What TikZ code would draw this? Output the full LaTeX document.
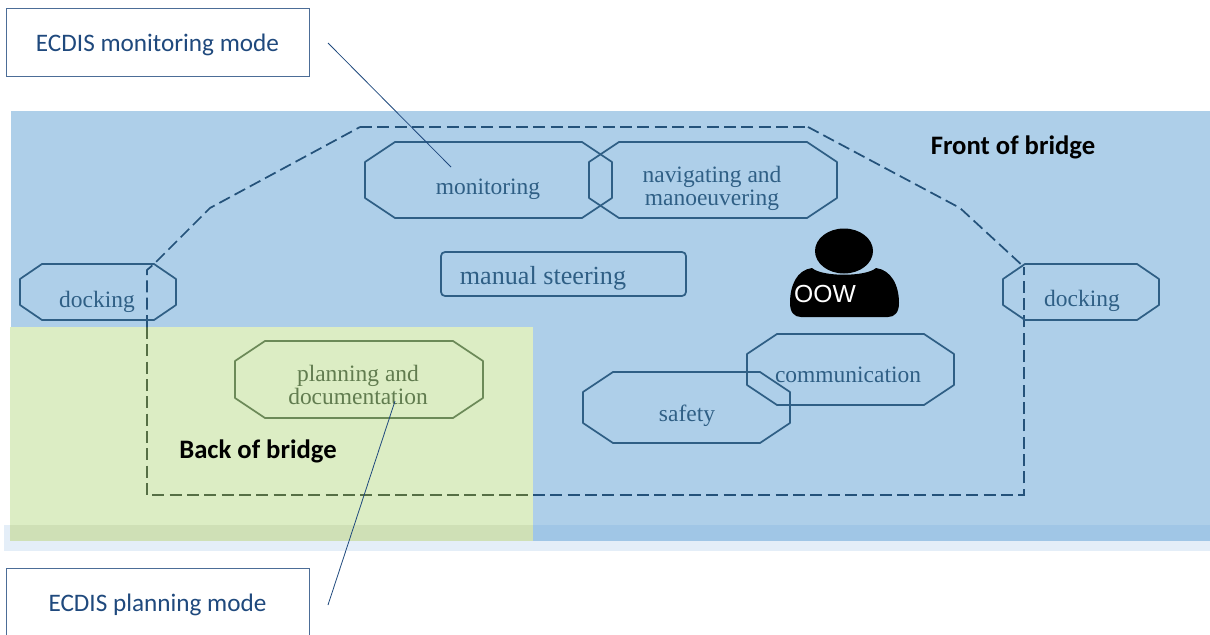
\documentclass[tikz,border=0pt]{standalone}
\usepackage{fontspec}
\setmainfont{Carlito}
\newfontfamily\paperfont{Liberation Serif}
\newfontfamily\oowfont{Liberation Sans}
\definecolor{bridgeblue}{HTML}{AECFE9}
\definecolor{bridgegreen}{HTML}{DCEDC4}
\definecolor{stripblue}{HTML}{A0C6E6}
\definecolor{stripgreen}{HTML}{CFE0B6}
\definecolor{paleblue}{HTML}{E4EEF8}
\definecolor{lineblue}{HTML}{2F5F85}
\definecolor{linegreen}{HTML}{6C8A58}
\definecolor{dashblue}{HTML}{24527A}
\definecolor{dashgreen}{HTML}{566F45}
\definecolor{captionblue}{HTML}{1F497D}
\tikzset{
  octa/.style n args={5}{minimum width=#1*0.75pt, minimum height=#2*0.75pt, inner sep=0pt, outer sep=0pt,
    append after command={\pgfextra{\draw[#5, line width=1.3pt, line join=round]
      ([xshift=#3*0.75pt]\tikzlastnode.north west) -- ([xshift=-#3*0.75pt]\tikzlastnode.north east)
      -- ([yshift=-#4*0.75pt]\tikzlastnode.north east) -- ([yshift=#4*0.75pt]\tikzlastnode.south east)
      -- ([xshift=-#3*0.75pt]\tikzlastnode.south east) -- ([xshift=#3*0.75pt]\tikzlastnode.south west)
      -- ([yshift=#4*0.75pt]\tikzlastnode.south west) -- ([yshift=-#4*0.75pt]\tikzlastnode.north west)
      -- cycle;}}},
  lbl/.style={text=lineblue, font=\paperfont\fontsize{17.6}{17}\selectfont, align=center},
  zonelbl/.style={font=\bfseries\fontsize{20}{22}\selectfont, text=black},
  modebox/.style={draw=captionblue!80, line width=0.7pt, fill=white, text=captionblue,
    minimum width=303*0.75pt, minimum height=68*0.75pt, text height=17pt, text depth=3pt,
    font=\fontsize{18.9}{22}\selectfont},
  bridgeline/.style={dash pattern=on 9pt off 4pt, line width=2pt},
  callout/.style={draw=captionblue, line width=0.6pt}
}
\begin{document}
\begin{tikzpicture}[x=0.75pt,y=-0.75pt]
  \useasboundingbox (0,0) rectangle (1210,635);
  % zones
  \fill[paleblue] (4,525) rectangle (1210,551);
  \fill[bridgeblue] (11,111) rectangle (1210,525);
  \fill[stripblue] (533,525) rectangle (1210,541);
  \fill[bridgegreen] (10,327) rectangle (533,525);
  \fill[stripgreen] (10,525) rectangle (533,541);

  % dashed outline
  \coordinate (bl) at (147,495);
  \coordinate (lz) at (147,327);
  \coordinate (l1) at (147,270);
  \coordinate (l2) at (154,264);
  \coordinate (l3) at (210,208);
  \coordinate (t1) at (360,127);
  \coordinate (t2) at (808,127);
  \coordinate (r1) at (960,208);
  \coordinate (r2) at (1024,267);
  \coordinate (br) at (1024,495);
  \coordinate (bz) at (533,495);
  \draw[bridgeline, dashgreen] (lz) -- (bl) -- (bz);
  \draw[bridgeline, dashblue] (bz) -- (br) -- (r2);
  \draw[bridgeline, dashblue, line width=1.3pt] (lz) -- (l1) -- (l2) -- (l3) -- (t1);
  \draw[bridgeline, dashblue] (t1) -- (t2);
  \draw[bridgeline, dashblue, line width=1.3pt] (t2) -- (r1) -- (r2);

  % tasks
  \node[octa={247}{76}{30}{20}{lineblue}] (monitoring) at (488.5,180) {};
  \node[octa={248}{76}{30}{20}{lineblue}] (navigating) at (713,180) {};
  \node[draw=lineblue, line width=1.3pt, rounded corners=3pt, minimum width=245*0.75pt,
    minimum height=44*0.75pt, inner sep=0pt] (steering) at (563.5,274) {};
  \node[octa={156}{56}{22}{15}{lineblue}] (dockleft) at (98,292) {};
  \node[octa={156}{56}{22}{15}{lineblue}] (dockright) at (1081,292) {};
  \node[octa={248}{77}{30}{20}{linegreen}] (planning) at (359,379.5) {};
  \node[octa={207}{71}{30}{20}{lineblue}] (communication) at (850.5,369.5) {};
  \node[octa={207}{71}{30}{20}{lineblue}] (safety) at (686.5,407.5) {};

  \node[lbl] at (488,189) {monitoring};
  \node[lbl, font=\paperfont\fontsize{17.6}{17.3}\selectfont] at (712,188.5) {navigating and\\manoeuvering};
  \node[lbl, font=\paperfont\fontsize{19.6}{22}\selectfont] at (543,278) {manual steering};
  \node[lbl] at (97,302) {docking};
  \node[lbl] at (1082,301) {docking};
  \node[lbl, text=linegreen!90!black, font=\paperfont\fontsize{17.6}{17.5}\selectfont] at (358,385) {planning and\\documentation};
  \node[lbl] at (848,375) {communication};
  \node[lbl] at (687,416) {safety};

  % zone names
  \node[zonelbl] (front) at (1013,147) {Front of bridge};
  \node[zonelbl] (back) at (258,451) {Back of bridge};

  % operator
  \fill[black] (844,251) ellipse (29 and 22.5);
  \fill[black] (790,303) .. controls (790,285) and (797,270) .. (812,268)
    .. controls (822,277) and (866,277) .. (876,268) .. controls (891,270) and (899,285) .. (899,303)
    .. controls (899,312) and (895,317) .. (888,317) -- (801,317) .. controls (794,317) and (790,312) .. (790,303) -- cycle;
  \node[text=white, font=\oowfont\fontsize{18.5}{20}\selectfont, inner sep=0pt] (oow) at (825,294) {OOW};

  % ECDIS modes
  \node[modebox] (modemon) at (157.5,42) {ECDIS monitoring mode};
  \node[modebox] (modeplan) at (157.5,602) {ECDIS planning mode};
  \coordinate (monstart) at (328,43);
  \coordinate (monend) at (451,167);
  \coordinate (planstart) at (328,605);
  \coordinate (planend) at (395,401);
  \draw[callout] (monstart) -- (monend);
  \draw[callout] (planstart) -- (planend);
\end{tikzpicture}
\end{document}
